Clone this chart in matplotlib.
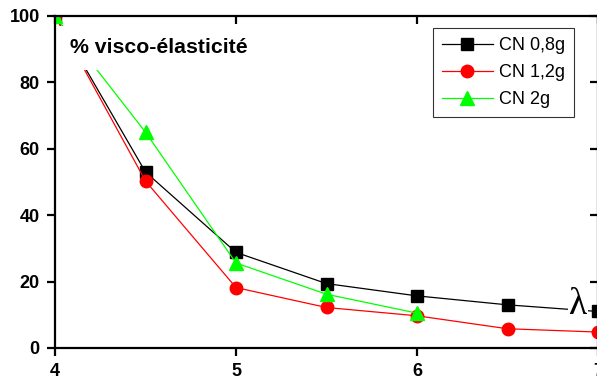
import matplotlib
matplotlib.use("Agg")
import matplotlib.pyplot as plt

# données
x = [4, 4.5, 5, 5.5, 6, 6.5, 7]
cn_08 = [100, 53, 28.8, 19.4, 15.7, 13, 11]
cn_12 = [100, 50.3, 18.2, 12.2, 9.7, 5.8, 4.8]
x_2g = [4, 4.5, 5, 5.5, 6]
cn_2 = [100, 65, 25.6, 16.2, 10.5]

xticks = [4, 5, 6, 7]
yticks = [0, 20, 40, 60, 80, 100]

plt.rcParams['font.family'] = ['Liberation Sans', 'DejaVu Sans']

fig = plt.figure(figsize=(5.97, 3.81), dpi=100)
ax = fig.add_axes([55 / 597, 33 / 381, 543 / 597, 332 / 381])

ax.plot(x, cn_08, color='black', lw=0.9, marker='s', ms=8.5, label='CN 0,8g')
ax.plot(x, cn_12, color='red', lw=0.9, marker='o', ms=9, label='CN 1,2g')
ax.plot(x_2g, cn_2, color='#00ff00', lw=0.9, marker='^', ms=9.5, label='CN 2g')

ax.set_xlim(4, 7)
ax.set_ylim(0, 100)
ax.set_xticks(xticks)
ax.set_yticks(yticks)

for s in ax.spines.values():
    s.set_linewidth(1.6)
ax.tick_params(axis='both', which='major', direction='out', length=6, width=1.6,
               labelsize=13, pad=5)
ax.tick_params(top=True, right=True)
for t in ax.xaxis.get_major_ticks():
    t.tick2line.set_marker(3)  # vers l'intérieur en haut
for t in ax.yaxis.get_major_ticks():
    t.tick2line.set_marker(0)
for lab in ax.get_xticklabels() + ax.get_yticklabels():
    lab.set_fontweight('bold')

# titre dans le cadre, fond blanc qui masque le début des courbes
ax.text(4.085, 90.5, '% visco-élasticité', fontsize=15.3, fontweight='bold',
        va='center', ha='left', zorder=5,
        bbox=dict(facecolor='white', edgecolor='none', pad=9))

# lambda en bas à droite
ax.text(6.89, 13, 'λ', family=['Liberation Serif', 'DejaVu Serif'], fontsize=27,
        va='center', ha='center', zorder=5,
        bbox=dict(facecolor='white', edgecolor='none', pad=0.5))

leg = ax.legend(loc='upper right', bbox_to_anchor=(0.956, 0.964), borderaxespad=0,
                fontsize=13, frameon=True, fancybox=False, edgecolor='black',
                handlelength=2.8, borderpad=0.5, labelspacing=0.55,
                handletextpad=0.35)
leg.get_frame().set_linewidth(0.8)

fig.savefig('out.png', dpi=100)
